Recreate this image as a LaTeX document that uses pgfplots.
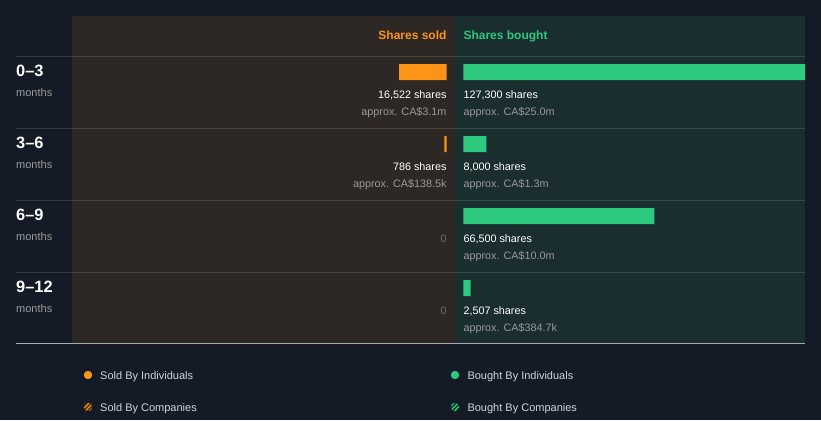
\documentclass[border=0pt]{standalone}
\usepackage{pgfplots}
\pgfplotsset{compat=1.18}
\usepackage{fontspec}
\setmainfont{Liberation Sans}
\usetikzlibrary{patterns.meta}
\definecolor{bg}{HTML}{151B26}
\definecolor{soldbg}{HTML}{2D2823}
\definecolor{boughtbg}{HTML}{1A2D2F}
\definecolor{sold}{HTML}{FD9317}
\definecolor{bought}{HTML}{2DC97E}
\definecolor{graytxt}{HTML}{9A9A9A}
\definecolor{zerotxt}{HTML}{6E6E6E}
\definecolor{legtxt}{HTML}{D0D3D8}
\definecolor{bottomline}{HTML}{A6A9AD}

\pgfplotstableread{
y  shares
72  16522
144 786
216 0
288 0
}\soldtable
\pgfplotstableread{
y  shares
72  127300
144 8000
216 66500
288 2507
}\boughttable

\begin{document}
\begin{tikzpicture}[x=1pt,y=1pt]
\useasboundingbox (0,0) rectangle (821,-420);
\fill[bg] (0,0) rectangle (821,-420);
\fill[soldbg] (72,-16) rectangle (455,-343);
\fill[boughtbg] (455,-16) rectangle (805,-343);
\foreach \y in {56.7,128.7,200.7,272.7} {
  \draw[white,opacity=0.13,line width=1pt] (16,-\y) -- (805,-\y);
}
\draw[bottomline,line width=1pt] (16,-343.3) -- (805,-343.3);

% sold (grows leftward)
\begin{axis}[at={(446.7pt,0pt)}, anchor=north east, scale only axis,
  width=374.7pt, height=420pt, xmin=0, xmax=130396, ymin=0, ymax=420,
  x dir=reverse, y dir=reverse, hide axis]
\addplot[xbar, bar width=16pt, fill=sold, draw=none, restrict x to domain=0.5:1000000] table[x=shares,y=y] {\soldtable};
\end{axis}

% bought (grows rightward, clipped)
\begin{axis}[at={(463.3pt,0pt)}, anchor=north west, scale only axis,
  width=341.7pt, height=420pt, xmin=0, xmax=118912, ymin=0, ymax=420,
  y dir=reverse, hide axis]
\addplot[xbar, bar width=16pt, fill=bought, draw=none] table[x=shares,y=y] {\boughttable};
\end{axis}

% headers
\node[anchor=base east, inner sep=0, text=sold, font=\bfseries\fontsize{12}{14}\selectfont] at (446.7,-39.4) {Shares sold};
\node[anchor=base west, inner sep=0, text=bought, font=\bfseries\fontsize{12}{14}\selectfont] at (463.3,-39.4) {Shares bought};

% row labels
\foreach \lab [count=\i from 0] in {0–3,3–6,6–9,9–12} {
  \node[anchor=base west, inner sep=0, text=white, font=\bfseries\fontsize{16.4}{18}\selectfont] at (16,{-76-72*\i}) {\lab};
  \node[anchor=base west, inner sep=0, text=graytxt, font=\fontsize{11}{13}\selectfont] at (16,{-96.5-72*\i}) {months};
}

% value texts sold
\tikzset{val/.style={inner sep=0, text=white, font=\fontsize{10.8}{13}\selectfont},
         apx/.style={inner sep=0, text=graytxt, font=\fontsize{10.8}{13}\selectfont}}
\node[val, anchor=base east] at (446.7,-98.6) {16,522 shares};
\node[apx, anchor=base east] at (446.7,-115) {approx. CA\$3.1m};
\node[val, anchor=base east] at (446.7,-170.6) {786 shares};
\node[apx, anchor=base east] at (446.7,-187) {approx. CA\$138.5k};
\node[inner sep=0, text=zerotxt, font=\fontsize{10.8}{13}\selectfont, anchor=base east] at (446.7,-242.6) {0};
\node[inner sep=0, text=zerotxt, font=\fontsize{10.8}{13}\selectfont, anchor=base east] at (446.7,-314.6) {0};

% value texts bought
\node[val, anchor=base west] at (463.3,-98.6) {127,300 shares};
\node[apx, anchor=base west] at (463.3,-115) {approx. CA\$25.0m};
\node[val, anchor=base west] at (463.3,-170.6) {8,000 shares};
\node[apx, anchor=base west] at (463.3,-187) {approx. CA\$1.3m};
\node[val, anchor=base west] at (463.3,-242.6) {66,500 shares};
\node[apx, anchor=base west] at (463.3,-259) {approx. CA\$10.0m};
\node[val, anchor=base west] at (463.3,-314.6) {2,507 shares};
\node[apx, anchor=base west] at (463.3,-331) {approx. CA\$384.7k};

% legend
\fill[sold] (88,-375) circle (4.2);
\fill[sold!35!black] (88,-407) circle (4.2);
\fill[pattern={Lines[angle=45,distance=3pt,line width=1.1pt]}, pattern color=sold] (88,-407) circle (4.2);
\fill[bought] (455,-375) circle (4.2);
\fill[bought!30!black] (455,-407) circle (4.2);
\fill[pattern={Lines[angle=45,distance=3pt,line width=1.1pt]}, pattern color=bought] (455,-407) circle (4.2);
\tikzset{leg/.style={inner sep=0, text=legtxt, font=\fontsize{11}{13}\selectfont, anchor=base west}}
\node[leg] at (100,-379.3) {Sold By Individuals};
\node[leg] at (100,-411.3) {Sold By Companies};
\node[leg] at (467.3,-379.3) {Bought By Individuals};
\node[leg] at (467.3,-411.3) {Bought By Companies};
\end{tikzpicture}
\end{document}
